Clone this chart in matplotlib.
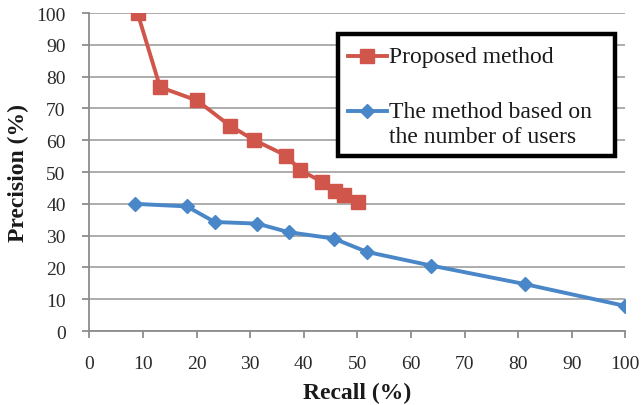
import matplotlib
matplotlib.use("Agg")
import matplotlib.pyplot as plt
from matplotlib.lines import Line2D
from matplotlib.patches import Rectangle

plt.rcParams["font.family"] = ["Liberation Serif", "DejaVu Serif"]

RED = "#D0564B"
BLUE = "#4A87C8"
GRID = "#A6A6A6"

# proposed method
proposed_recall = [9.0, 13.2, 20.1, 26.2, 30.7, 36.7, 39.4, 43.4, 45.8, 47.6, 50.1]
proposed_precision = [100, 76.7, 72.5, 64.6, 60.1, 55.2, 50.5, 47.0, 43.9, 42.8, 40.5]

# method based on the number of users
users_recall = [8.6, 18.2, 23.4, 31.3, 37.2, 45.6, 51.8, 63.8, 81.2, 100]
users_precision = [40.0, 39.2, 34.3, 33.8, 31.1, 29.1, 24.9, 20.6, 14.8, 7.9]

x_ticks = list(range(0, 101, 10))
y_ticks = list(range(0, 101, 10))

fig = plt.figure(figsize=(6.43, 4.06), dpi=100)
ax = fig.add_axes([0.1389, 0.182, 0.8336, 0.7835])

ax.plot(proposed_recall, proposed_precision, color=RED, lw=2.8,
        marker="s", markersize=9.5, zorder=3)
ax.plot(users_recall, users_precision, color=BLUE, lw=2.8,
        marker="D", markersize=7.5, zorder=3)

ax.set_xlim(0, 100)
ax.set_ylim(0, 100)
ax.set_xticks(x_ticks)
ax.set_yticks(y_ticks)
ax.yaxis.grid(True, color=GRID, lw=1.3)
ax.set_axisbelow(True)
for s in ["top", "right"]:
    ax.spines[s].set_visible(False)
for s in ["left", "bottom"]:
    ax.spines[s].set_color("#8C8C8C")
    ax.spines[s].set_linewidth(1.3)
ax.tick_params(axis="both", colors="#8C8C8C", length=5, width=1.3,
               labelsize=14, labelcolor="#2a2a2a")
ax.tick_params(axis="x", pad=12)
ax.tick_params(axis="y", pad=12)

ax.set_xlabel("Recall (%)", fontsize=17, fontweight="bold", labelpad=7,
              color="#1a1a1a")
ax.set_ylabel("Precision (%)", fontsize=17, fontweight="bold",
              color="#1a1a1a")
ax.yaxis.set_label_coords(-0.112, 0.5)

# legend box drawn by hand to match the boxed layout
box = Rectangle((0.464, 0.55), 0.517, 0.384, transform=ax.transAxes,
                facecolor="white", edgecolor="black", lw=3.2, zorder=5)
ax.add_patch(box)
ax.add_line(Line2D([0.482, 0.518, 0.555], [0.865, 0.865, 0.865], transform=ax.transAxes,
                   color=RED, lw=2.8, marker="s", markersize=9.5,
                   markevery=[1], zorder=6))
ax.add_line(Line2D([0.482, 0.518, 0.555], [0.692, 0.692, 0.692], transform=ax.transAxes,
                   color=BLUE, lw=2.8, marker="D", markersize=7.5,
                   markevery=[1], zorder=6))
legend_font = dict(fontsize=17, va="center", ha="left", zorder=7,
                   color="#1a1a1a", transform=ax.transAxes)
ax.text(0.560, 0.862, "Proposed method", **legend_font)
ax.text(0.560, 0.689, "The method based on", **legend_font)
ax.text(0.560, 0.613, "the number of users", **legend_font)

fig.savefig("out.png", dpi=100)
